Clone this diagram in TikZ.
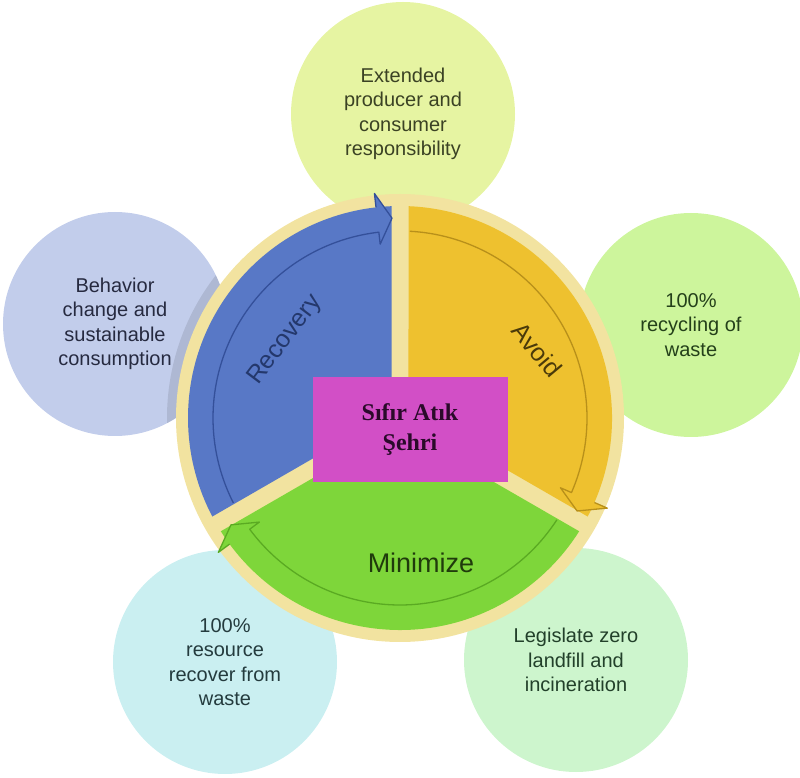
\documentclass[tikz,border=0pt]{standalone}
\usepackage{fontspec}
\setmainfont{Liberation Sans}
\newfontfamily\hubfont{Liberation Serif}
\usetikzlibrary{calc}
\definecolor{ringbg}{HTML}{F2E3A0}
\definecolor{rec}{HTML}{5878C6}
\definecolor{recdk}{HTML}{34509A}
\definecolor{avo}{HTML}{EEC12F}
\definecolor{avodk}{HTML}{B8901A}
\definecolor{mini}{HTML}{7ED63A}
\definecolor{minidk}{HTML}{5AAA22}
\definecolor{hub}{HTML}{D24FC6}
\definecolor{hubtxt}{HTML}{2A0A2A}
\definecolor{ctop}{HTML}{E6F4A2}
\definecolor{cleft}{HTML}{C2CDEB}
\definecolor{cright}{HTML}{CDF59C}
\definecolor{cbl}{HTML}{CAEFF1}
\definecolor{cbr}{HTML}{CDF5CD}
\definecolor{ttop}{HTML}{3B4224}
\definecolor{tleft}{HTML}{262A40}
\definecolor{tright}{HTML}{24401A}
\definecolor{tbl}{HTML}{243B3E}
\definecolor{tbr}{HTML}{22402A}

\begin{document}
\begin{tikzpicture}[
  x=1pt,y=1pt,
  bubble/.style={circle,minimum size=224pt,inner sep=0pt,align=center,font=\fontsize{20}{24.5}\selectfont},
  seclab/.style={font=\fontsize{25}{30}\selectfont},
]
\useasboundingbox (0,0) rectangle (800,777);
\coordinate (c) at (400,359);
% outer bubbles
\foreach \n/\x/\y/\col/\tc/\txt in {
  extended/403/663/ctop/ttop/{Extended\\producer and\\consumer\\responsibility},
  behavior/115/453/cleft/tleft/{Behavior\\change and\\sustainable\\consumption},
  recycling/691/452/cright/tright/{100\%\\recycling of\\waste},
  resource/225/115/cbl/tbl/{100\%\\resource\\recover from\\waste},
  legislate/576/117/cbr/tbr/{Legislate zero\\landfill and\\incineration}}{
  \node[bubble,fill=\col,text=\tc] (\n) at (\x,\y) {\txt};
}
% shade of the ring on the left bubble
\begin{scope}
  \clip (behavior.center) circle (112);
  \fill[black,opacity=0.1] (c) circle (233);
\end{scope}
\fill[ringbg] (c) circle (224);
% three curved arrows, head at the clockwise end
\foreach \a/\b/\col/\dk in {90/210/rec/recdk,-30/90/avo/avodk,210/330/mini/minidk}{
  \fill[\col] ($(c)+({(\a+\b)/2}:9.8)$) -- ($(c)+({\a+2.3}:212)$)
    arc[start angle=\a+2.3,end angle=\b-2.3,radius=212] -- cycle;
  \fill[\col] ($(c)+({\a+6.5}:226)$) -- ($(c)+({\a+2.3}:200)$) -- ($(c)+({\a+6.5}:175)$) -- cycle;
  \draw[\dk,line width=1.3pt,line join=round] ($(c)+({\a+6.5}:212)$) -- ($(c)+({\a+6.5}:226)$)
    -- ($(c)+({\a+2.3}:200)$) -- ($(c)+({\a+6.5}:175)$) -- ($(c)+({\a+6.5}:187)$)
    arc[start angle=\a+6.5,end angle=\b-3,radius=187];
}
\node[seclab,text=recdk!70!black,rotate=53] (recovery) at (285,437) {Recovery};
\node[seclab,text=avodk!40!black,rotate=-50] (avoid) at (537,427) {Avoid};
\node[font=\fontsize{27}{32}\selectfont,text=minidk!35!black] (minimize) at (421,214) {Minimize};
\node[fill=hub,minimum width=195pt,minimum height=105pt,align=center,
  font=\hubfont\bfseries\fontsize{24}{30}\selectfont,text=hubtxt] (city) at (410,347) {Sıfır Atık\\Şehri};
\end{tikzpicture}
\end{document}
